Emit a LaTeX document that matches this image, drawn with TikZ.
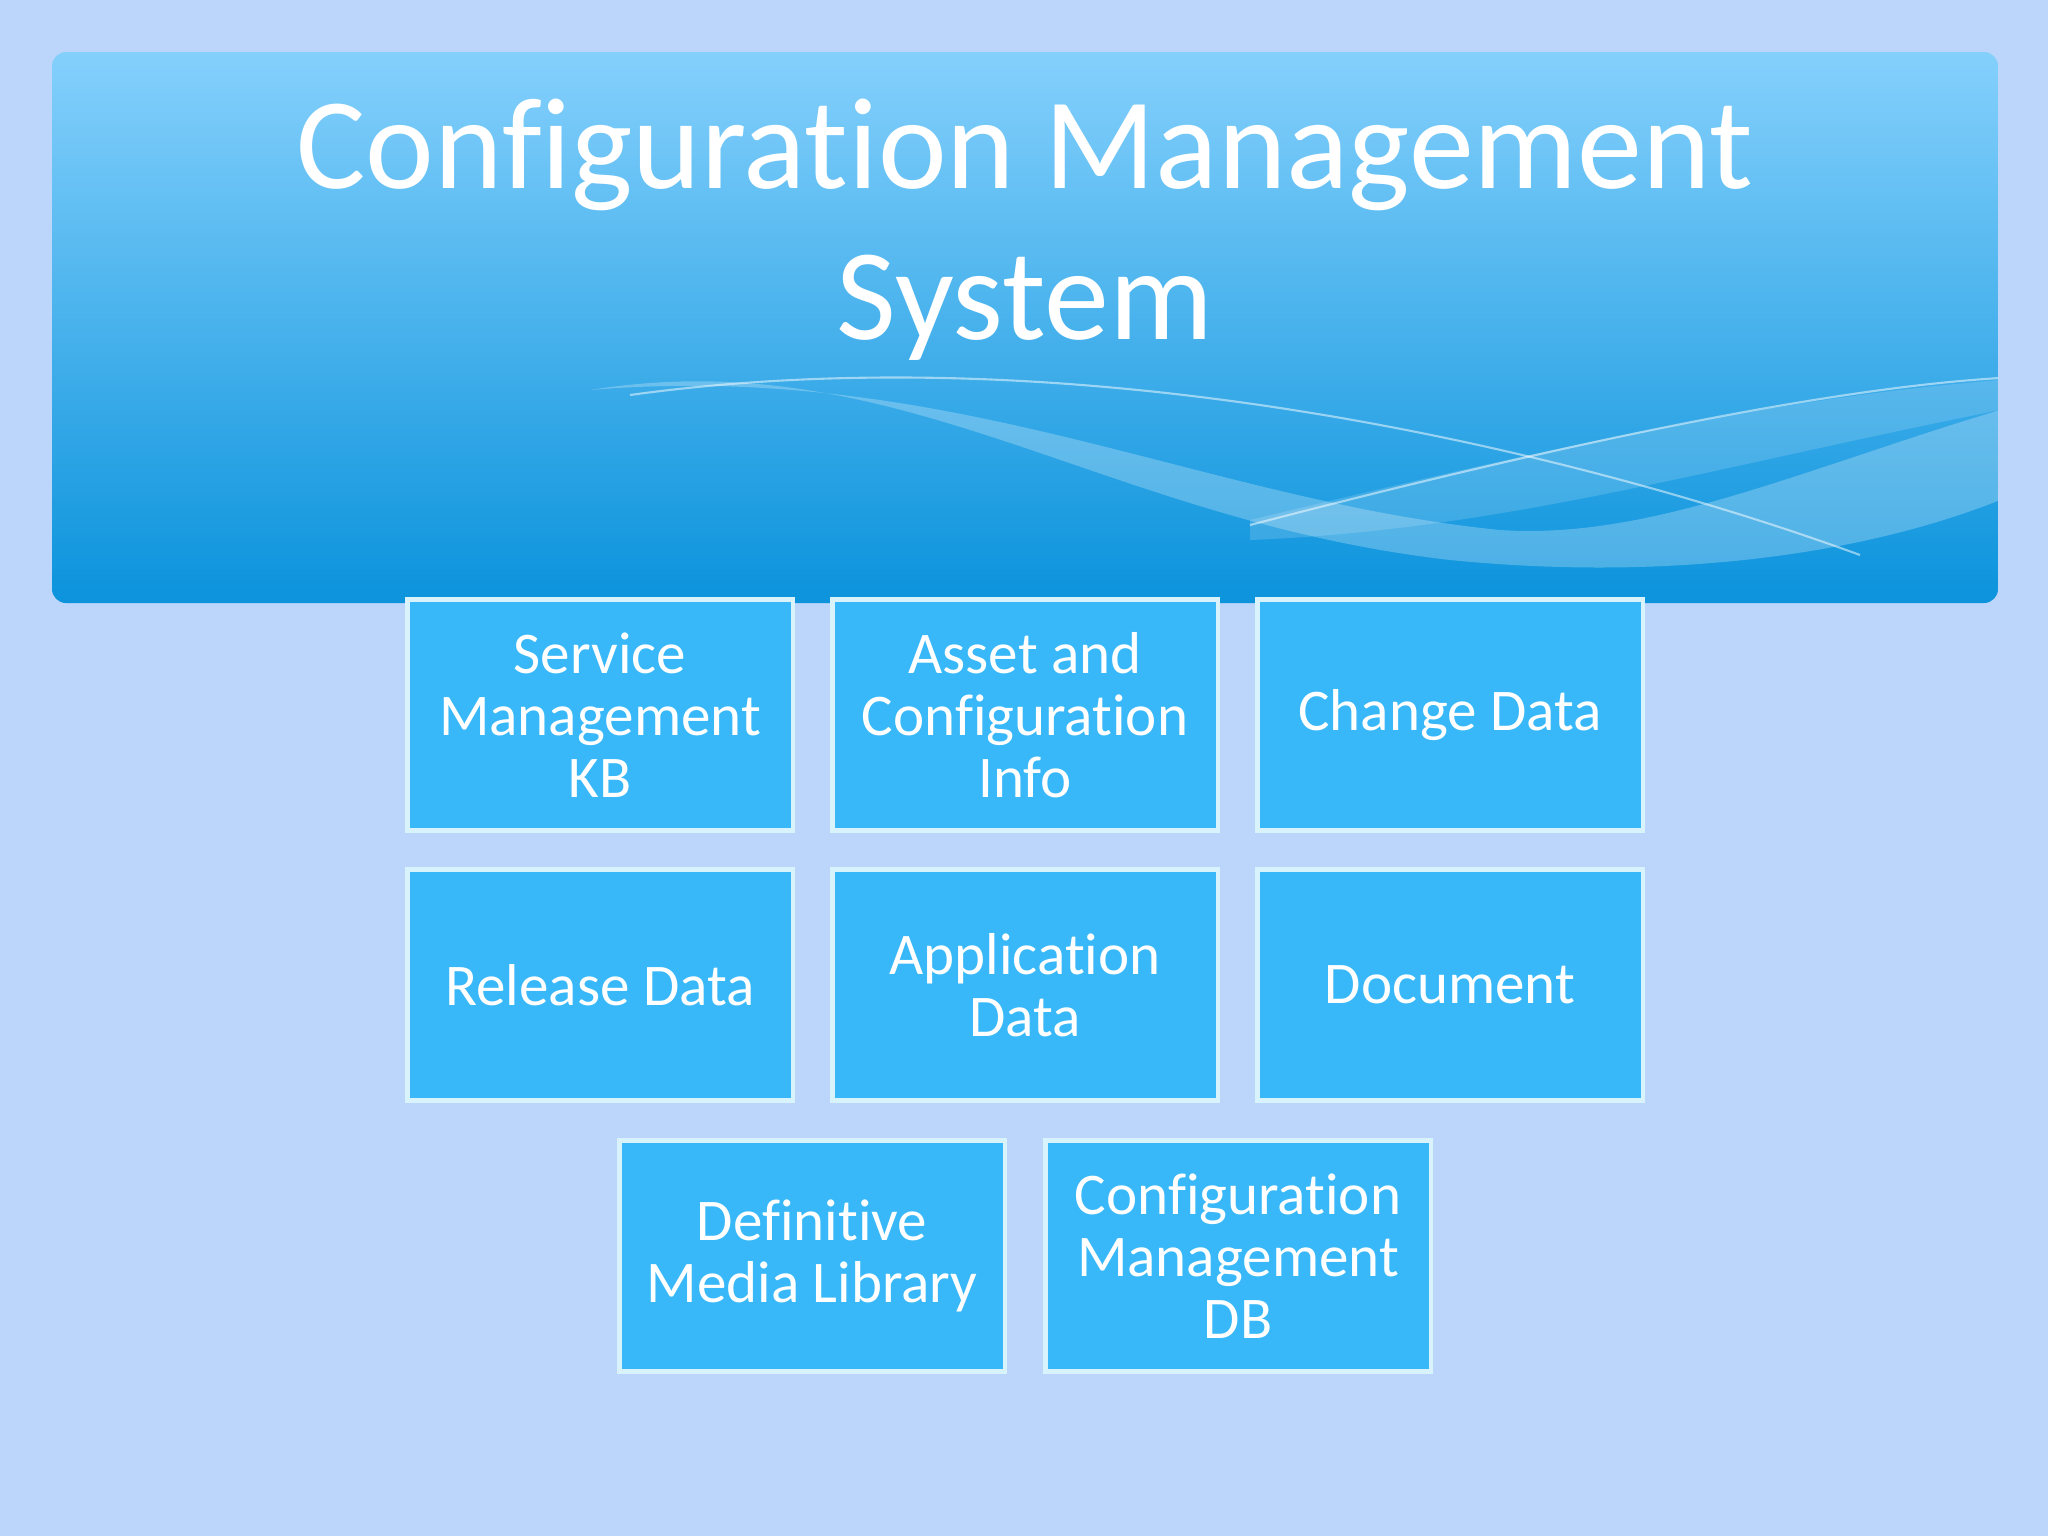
\documentclass[tikz,border=0pt]{standalone}
\usepackage{fontspec}
\setmainfont[Ligatures=NoCommon]{Carlito}
\begin{document}
\begin{tikzpicture}[x=0.01cm,y=-0.01cm,
  cbox/.style={draw=white!85!cyan,line width=1.2pt,fill=boxblue,text=white,minimum width=3.85cm,minimum height=2.31cm,align=center,font=\fontsize{16.8}{17.6}\selectfont,inner sep=0pt}]
\definecolor{bgblue}{HTML}{BCD5FB}
\definecolor{boxblue}{HTML}{38B8F8}
\definecolor{toptop}{HTML}{84D0FC}
\definecolor{topbot}{HTML}{0B93DC}
\useasboundingbox (0,0) rectangle (2048,1536);
\fill[bgblue] (0,0) rectangle (2048,1536);
\shade[top color=toptop,bottom color=topbot,rounded corners=4pt] (52,52) rectangle (1998,603);
\begin{scope}
\clip[rounded corners=4pt] (52,52) rectangle (1998,603);
\fill[white,opacity=0.25] (590,390) .. controls (900,340) and (1100,520) .. (1450,560) .. controls (1650,580) and (1850,560) .. (2000,500) -- (2000,410) .. controls (1800,470) and (1650,540) .. (1500,530) .. controls (1200,500) and (950,360) .. (590,390) -- cycle;
\fill[white,opacity=0.15] (1250,520) .. controls (1500,460) and (1750,400) .. (2000,380) -- (2000,410) .. controls (1700,470) and (1500,530) .. (1250,540) -- cycle;
\draw[white,opacity=0.5,line width=0.6pt] (630,395) .. controls (1100,330) and (1600,460) .. (1860,555);
\draw[white,opacity=0.5,line width=0.6pt] (1250,525) .. controls (1500,460) and (1800,390) .. (2000,378);
\end{scope}
\node[text=white,align=center,font=\fontsize{37}{43}\selectfont] (title) at (1025,230) {Configuration Management\\System};
\node[cbox] (a) at (600,715) {Service\\Management\\KB};
\node[cbox] (b) at (1025,715) {Asset and\\Configuration\\Info};
\node[cbox] (c) at (1450,715) {Change Data};
\node[cbox] (d) at (600,985) {Release Data};
\node[cbox] (e) at (1025,985) {Application\\Data};
\node[cbox] (f) at (1450,985) {Document};
\node[cbox] (g) at (812,1256) {Definitive\\Media Library};
\node[cbox] (h) at (1238,1256) {Configuration\\Management\\DB};
\end{tikzpicture}
\end{document}
